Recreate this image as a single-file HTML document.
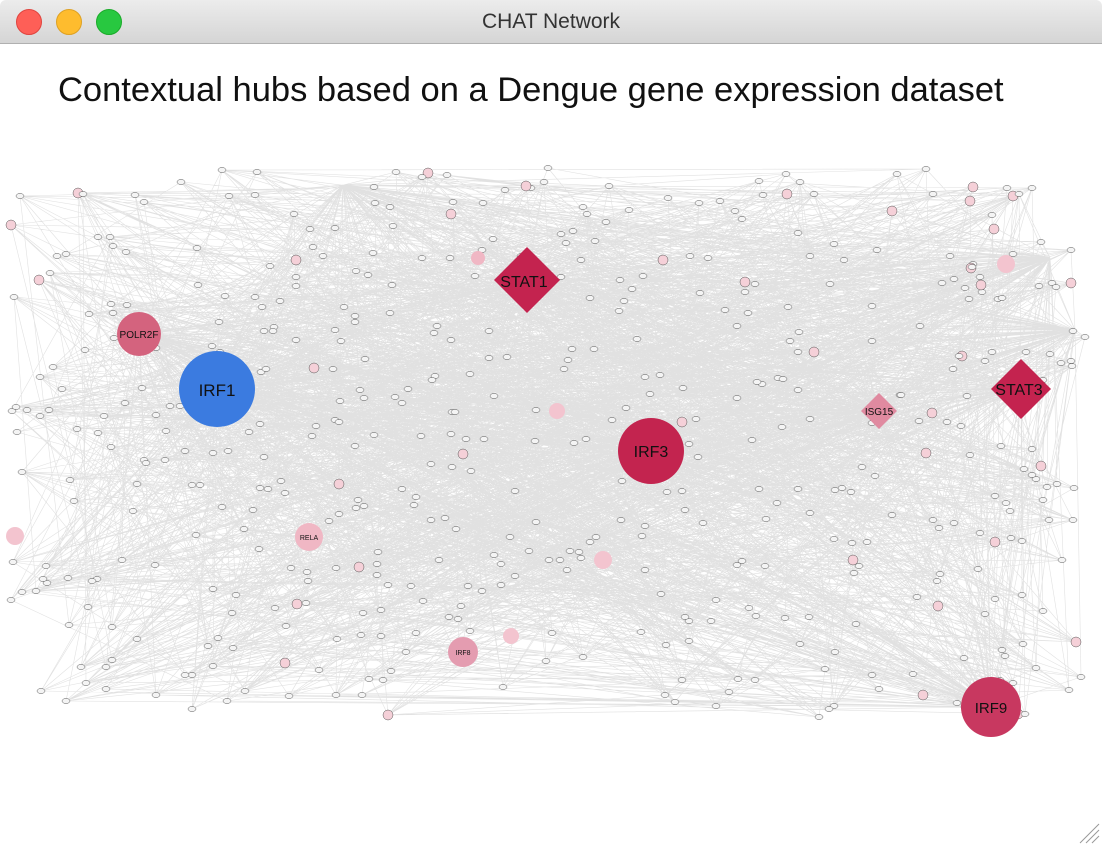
<!DOCTYPE html>
<html><head><meta charset="utf-8"><style>
html,body{margin:0;padding:0;width:1102px;height:846px;overflow:hidden;background:#fff;font-family:"Liberation Sans",sans-serif}
#bar{position:absolute;left:0;top:0;width:1102px;height:43px;background:linear-gradient(#ececec,#d5d5d5);border-bottom:1px solid #b0b0b0;border-radius:6px 6px 0 0}
.dot{position:absolute;top:9px;width:24px;height:24px;border-radius:50%}
#t{position:absolute;top:10px;width:100%;text-align:center;font-size:21px;color:#333}
#h{position:absolute;top:71px;left:58px;font-size:34.5px;color:#111;white-space:nowrap}
svg{position:absolute;left:0;top:0}
</style></head><body>
<div id="bar"><div class="dot" style="left:16px;background:#fe5f57;border:1px solid #e0443e"></div><div class="dot" style="left:56px;background:#febc2e;border:1px solid #dea123"></div><div class="dot" style="left:96px;background:#28c840;border:1px solid #1aab29"></div><div id="t">CHAT Network</div></div>
<div id="h">Contextual hubs based on a Dengue gene expression dataset</div>
<svg id="s" width="1102" height="846" style="top:0">
<g id="bg"></g>
<g id="ed" stroke="#bdbdbd" stroke-width="0.6" stroke-opacity="0.45" fill="none"></g>
<g id="nd"></g>
<g font-family="Liberation Sans,sans-serif" text-anchor="middle" fill="#111">
<circle cx="139" cy="334" r="22" fill="#d4637e"/><text x="139" y="338" font-size="10">POLR2F</text>
<circle cx="217" cy="389" r="38" fill="#3b7be0"/><text x="217" y="396" font-size="17">IRF1</text>
<polygon points="527,247 560,280 527,313 494,280" fill="#c4234f"/><text x="524" y="287" font-size="16">STAT1</text>
<circle cx="651" cy="451" r="33" fill="#c3244f"/><text x="651" y="457" font-size="16">IRF3</text>
<polygon points="1021,359 1051,389 1021,419 991,389" fill="#c4234f"/><text x="1019" y="395" font-size="16">STAT3</text>
<polygon points="879,393 897,411 879,429 861,411" fill="#e08aa0"/><text x="879" y="415" font-size="10">ISG15</text>
<circle cx="991" cy="707" r="30" fill="#c83860"/><text x="991" y="713" font-size="15">IRF9</text>
<circle cx="309" cy="537" r="14" fill="#f0b7c4"/><text x="309" y="540" font-size="7">RELA</text>
<circle cx="463" cy="652" r="15" fill="#e49cb0"/><text x="463" y="655" font-size="7">IRF8</text>
<circle cx="603" cy="560" r="9" fill="#f3c4cf"/><circle cx="15" cy="536" r="9" fill="#f3c4cf"/>
<circle cx="511" cy="636" r="8" fill="#f3c4cf"/><circle cx="1006" cy="264" r="9" fill="#f3c4cf"/>
<circle cx="557" cy="411" r="8" fill="#f3c4cf"/><circle cx="478" cy="258" r="7" fill="#f0b7c4"/>
</g>
</svg>
<svg width="1102" height="846"><path d="M1080 843L1099 824M1086 843L1099 830M1092 843L1099 836" stroke="#999"/></svg>
<script>
var s=12345;function r(){s=(s*16807)%2147483647;return s/2147483647;}
var ns='http://www.w3.org/2000/svg';
var hubs=[[527,280],[217,389],[651,451],[1021,389],[879,411],[991,707],[139,334],[343,185],[1050,258],[1075,330]];
var pts=[];for(var i=0;i<520;i++){pts.push([8+r()*1080,168+r()*550]);}
var ed=document.getElementById('ed'),d='';
for(var i=0;i<3000;i++){var a=pts[Math.floor(r()*pts.length)];var c=r()<0.4?hubs[Math.floor(r()*hubs.length)]:pts[Math.floor(r()*pts.length)];d+='M'+a[0].toFixed(0)+' '+a[1].toFixed(0)+'L'+c[0].toFixed(0)+' '+c[1].toFixed(0);}
var p=document.createElementNS(ns,'path');p.setAttribute('d',d);ed.appendChild(p);
var nd=document.getElementById('nd'),h='';
pts.forEach(function(q){var big=r()<0.06;h+='<ellipse cx="'+q[0].toFixed(0)+'" cy="'+q[1].toFixed(0)+'" rx="'+(big?5:4)+'" ry="'+(big?5:2.5)+'" fill="'+(big?'#f5d0d8':'#f4f4f4')+'" stroke="#555" stroke-width="0.5"/>';});
nd.innerHTML=h;
</script>
</body></html>
